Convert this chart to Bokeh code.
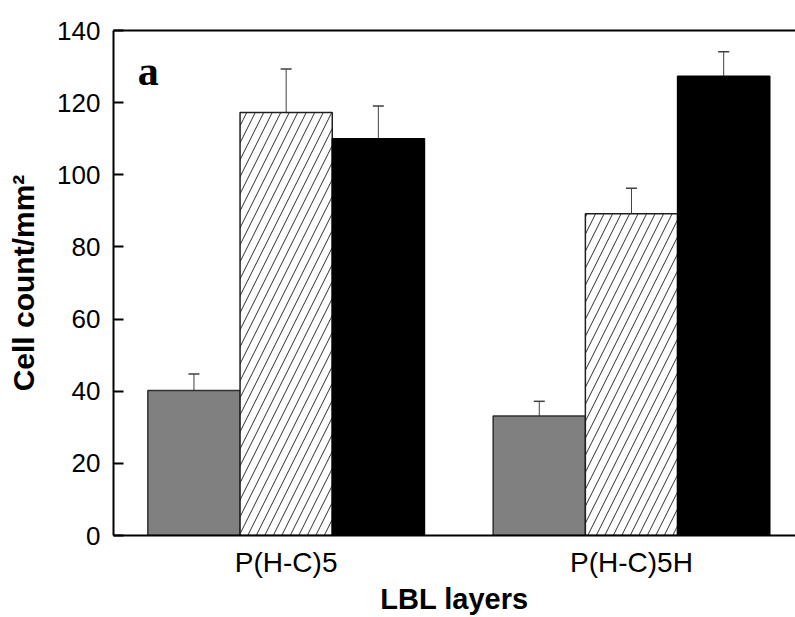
from bokeh.plotting import figure
from bokeh.models import (ColumnDataSource, Range1d, FixedTicker, LinearAxis,
                          Whisker, TeeHead, Label)
from bokeh.embed import file_html
from bokeh.resources import INLINE

# Cell counts per LBL layer construct, three conditions per group
categories = ["P(H-C)5", "P(H-C)5H"]
gray_vals = [40.2, 33.1]
gray_err = [4.6, 4.1]
hatch_vals = [117.3, 89.2]
hatch_err = [12.0, 7.1]
black_vals = [110.0, 127.3]
black_err = [9.1, 6.8]
y_ticks = [0, 20, 40, 60, 80, 100, 120, 140]

group_pos = [1, 2]
bar_w = 0.267
offsets = [-bar_w, 0.0, bar_w]

FONT = "Liberation Sans"

p = figure(width=795, height=617, output_backend="svg", toolbar_location=None,
           x_range=Range1d(0.5, 2.475), y_range=Range1d(0, 140),
           min_border_left=113, min_border_right=0, min_border_top=30,
           min_border_bottom=82)
p.background_fill_color = "white"
p.border_fill_color = "white"
p.outline_line_color = None
p.grid.visible = False

series = [
    (gray_vals, gray_err, dict(fill_color="#808080", line_color="#303030")),
    (hatch_vals, hatch_err, dict(fill_color="white", line_color="#202020",
                                 hatch_pattern="/", hatch_scale=17,
                                 hatch_color="#303030", hatch_weight=1)),
    (black_vals, black_err, dict(fill_color="black", line_color="black")),
]

for off, (vals, errs, style) in zip(offsets, series):
    xs = [g + off for g in group_pos]
    src = ColumnDataSource(dict(x=xs, top=vals,
                                upper=[v + e for v, e in zip(vals, errs)]))
    p.vbar(x="x", top="top", bottom=0, width=bar_w, source=src,
           line_width=1.5, **style)
    p.add_layout(Whisker(base="x", lower="top", upper="upper", source=src,
                         line_color="#404040", line_width=1,
                         upper_head=TeeHead(size=11, line_color="#404040",
                                            line_width=1.5),
                         lower_head=None, level="underlay"))

# Axes
xa = p.xaxis[0]
xa.ticker = FixedTicker(ticks=group_pos)
xa.major_label_overrides = {g: c for g, c in zip(group_pos, categories)}
xa.major_tick_line_color = None
xa.minor_tick_line_color = None
xa.axis_line_width = 2
xa.axis_line_color = "black"
xa.major_label_text_font = FONT
xa.major_label_text_font_size = "28px"
xa.major_label_text_color = "black"
xa.major_label_standoff = 5
xa.axis_label = "LBL layers"
xa.axis_label_text_font = FONT
xa.axis_label_text_font_style = "bold"
xa.axis_label_text_font_size = "29px"
xa.axis_label_text_color = "black"
xa.axis_label_standoff = 2

ya = p.yaxis[0]
ya.ticker = FixedTicker(ticks=y_ticks)
ya.minor_tick_line_color = None
ya.major_tick_in = 10
ya.major_tick_out = 0
ya.major_tick_line_width = 2
ya.axis_line_width = 2
ya.axis_line_color = "black"
ya.major_label_text_font = FONT
ya.major_label_text_font_size = "26px"
ya.major_label_text_color = "black"
ya.major_label_standoff = 13
ya.axis_label = "Cell count/mm²"
ya.axis_label_text_font = FONT
ya.axis_label_text_font_style = "bold"
ya.axis_label_text_font_size = "30px"
ya.axis_label_text_color = "black"
ya.axis_label_standoff = 14

# Top frame line
top = LinearAxis(ticker=FixedTicker(ticks=[]), axis_line_width=2,
                 axis_line_color="black", major_tick_line_color=None,
                 minor_tick_line_color=None, major_label_text_font_size="0px")
p.add_layout(top, "above")

# Panel letter
p.add_layout(Label(x=0.57, y=128.8, text="a", text_font="Liberation Serif",
                   text_font_style="bold", text_font_size="42px",
                   text_color="black", text_baseline="alphabetic"))

open("out.html", "w").write(file_html(p, INLINE))
